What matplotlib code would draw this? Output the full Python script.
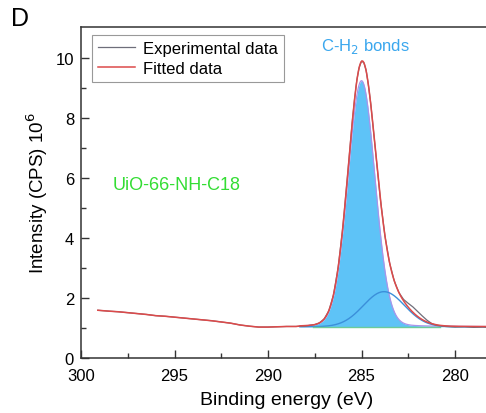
import numpy as np
import matplotlib
matplotlib.use("Agg")
import matplotlib.pyplot as plt

plt.rcParams['font.family'] = ['Liberation Sans', 'DejaVu Sans']

exp_be = [299.1, 298.5, 298.0, 297.5, 297.0, 296.5, 296.0, 295.5, 295.0, 294.5,
          294.0, 293.5, 293.0, 292.5, 292.0, 291.5, 291.0, 290.5, 290.0, 289.5,
          289.0, 288.5, 288.0, 287.75, 287.5, 287.25, 287.0, 286.75, 286.5, 286.25,
          286.0, 285.75, 285.5, 285.375, 285.25, 285.125, 285.0, 284.875, 284.75, 284.625,
          284.5, 284.25, 284.0, 283.75, 283.5, 283.25, 283.0, 282.75, 282.5, 282.25,
          282.0, 281.75, 281.5, 281.25, 281.0, 280.5, 280.0, 279.5, 279.0, 278.5, 278.3]
exp_int = [1.59, 1.56, 1.54, 1.51, 1.48, 1.45, 1.41, 1.39, 1.36, 1.33,
           1.30, 1.27, 1.24, 1.20, 1.16, 1.10, 1.06, 1.03, 1.03, 1.04,
           1.05, 1.05, 1.06, 1.09, 1.11, 1.17, 1.30, 1.57, 2.10, 3.01,
           4.35, 6.05, 7.84, 8.60, 9.26, 9.68, 9.89, 9.84, 9.58, 9.06,
           8.44, 6.89, 5.34, 4.08, 3.17, 2.57, 2.18, 1.95, 1.82, 1.70,
           1.55, 1.40, 1.26, 1.15, 1.09, 1.05, 1.03, 1.04, 1.02, 1.03, 1.02]

# Fitted component parameters
baseline = 1.04
c1_center, c1_height, c1_fwhm, c1_lmix = 285.0, 8.2, 1.70, 0.06   # C-H2
c2_center, c2_height, c2_sigma = 283.8, 1.17, 1.10
fit_range = (288.3, 278.3)

x_ticks = [300, 295, 290, 285, 280]
y_ticks = [0, 2, 4, 6, 8, 10]

fig = plt.figure(figsize=(4.86, 4.14), dpi=100)
ax = fig.add_axes([0.1667, 0.1329, 0.8465, 0.7995])

xf = np.linspace(fit_range[0], fit_range[1], 600)
sig1 = c1_fwhm / 2.3548
g1 = np.exp(-(xf - c1_center) ** 2 / (2 * sig1 ** 2))
l1 = 1.0 / (1 + ((xf - c1_center) / (c1_fwhm / 2)) ** 2)
comp1 = c1_height * ((1 - c1_lmix) * g1 + c1_lmix * l1)
comp2 = c2_height * np.exp(-(xf - c2_center) ** 2 / (2 * c2_sigma ** 2))
fit = baseline + comp1 + comp2

ax.fill_between(xf, baseline, baseline + comp1, color='#5EC3F7', lw=0, zorder=1)
ax.plot(xf, baseline + comp1, color='#A994EA', lw=0.9, zorder=2)
ax.plot(xf, baseline + comp2, color='#3B8FDA', lw=1.0, zorder=2)
ax.plot([287.6, 280.8], [baseline, baseline], color='#6CCB9A', lw=1.0, zorder=2)

ax.plot(exp_be, exp_int, color='#6E6E7A', lw=0.9, zorder=3, label='Experimental data')
# fitted envelope: background region follows the data, peak region from the model
left_be = [b for b in exp_be if b > fit_range[0]]
left_int = [v for b, v in zip(exp_be, exp_int) if b > fit_range[0]]
ax.plot(left_be + list(xf), left_int + list(fit), color='#DD4A4A', lw=1.1, zorder=4,
        label='Fitted data')

ax.set_xlim(300, 278)
ax.set_ylim(0, 11.03)
ax.set_xticks(x_ticks)
ax.set_xticks([297.5, 292.5, 287.5, 282.5], minor=True)
ax.set_yticks(y_ticks)
ax.set_yticks([1, 3, 5, 7, 9], minor=True)
ax.tick_params(which='both', direction='in', labelsize=12, color='#333333')
ax.tick_params(which='major', length=6, width=1)
ax.tick_params(which='minor', length=3.5, width=1)
ax.tick_params(axis='x', which='major', pad=7)
ax.tick_params(axis='y', which='major', pad=5)
for s in ax.spines.values():
    s.set_color('#333333')
    s.set_linewidth(1.1)

ax.set_xlabel('Binding energy (eV)', fontsize=14, labelpad=6)
ax.set_ylabel('Intensity (CPS) 10$^{6}$', fontsize=13.5, labelpad=4)

ax.text(284.78, 10.4, 'C-H$_2$ bonds', color='#3AA7EE', fontsize=12, ha='center', va='center')
ax.text(298.3, 5.77, 'UiO-66-NH-C18', color='#33DD33', fontsize=13, ha='left', va='center')
fig.text(0.022, 0.955, 'D', fontsize=18, ha='left', va='center')

leg = ax.legend(loc='upper left', bbox_to_anchor=(0.027, 0.975), fontsize=12,
                frameon=True, fancybox=False, edgecolor='#999999', framealpha=1,
                handlelength=2.2, borderpad=0.35, labelspacing=0.3, handletextpad=0.5,
                borderaxespad=0)
leg.get_frame().set_linewidth(0.8)

fig.savefig('out.png', dpi=100)
